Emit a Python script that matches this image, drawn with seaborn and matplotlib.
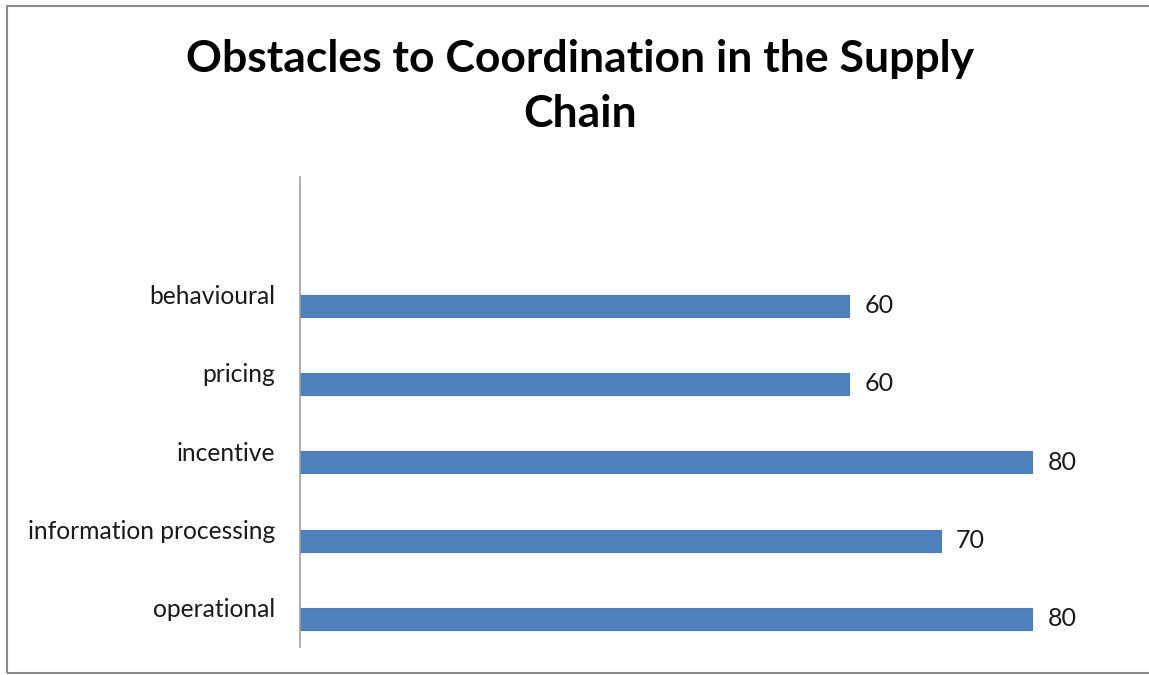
import matplotlib
matplotlib.use("Agg")
import matplotlib.pyplot as plt
import seaborn as sns
import pandas as pd
import numpy as np
from matplotlib.patches import Rectangle

categories = ["behavioural", "pricing", "incentive", "information processing", "operational"]
values = [60, 60, 80, 70, 80]
title = "Obstacles to Coordination in the Supply\nChain"

sns.set_theme(style="white")
plt.rcParams['font.family'] = ['Lato', 'DejaVu Sans']

order = [""] + categories
df = pd.DataFrame({
    "category": categories + categories,
    "value": values + [np.nan] * len(categories),
    "series": ["Series1"] * len(categories) + ["Series2"] * len(categories),
})

fig = plt.figure(figsize=(11.49, 6.75), dpi=100)
W, H = 1149, 675
ax = fig.add_axes([300 / W, 1 - 647 / H, (1123.5 - 300) / W, (647 - 177) / H])

sns.barplot(data=df, y="category", x="value", hue="series", order=order,
            hue_order=["Series2", "Series1"], orient="h", dodge=True,
            palette={"Series1": "#4F81BD", "Series2": "#4F81BD"}, saturation=1,
            width=0.564, edgecolor="#4A7EBB", linewidth=0.8, legend=False, ax=ax,
            errorbar=None)

for cont in ax.containers:
    labels = ["" if (v is None or np.isnan(v)) else f"{v:.0f}" for v in cont.datavalues]
    ax.bar_label(cont, labels=labels, padding=11, fontsize=18, color="#1a1a1a")

ax.set_xlim(0, 90)
ax.set_ylim(len(order) - 0.5, -0.5)
ax.set_xlabel("")
ax.set_ylabel("")
ax.set_xticks([])
ax.tick_params(axis="y", length=0, pad=18, labelsize=17.7, labelcolor="#1a1a1a")
for s in ["top", "right", "bottom"]:
    ax.spines[s].set_visible(False)
ax.spines["left"].set_color("#A0A0A0")
ax.spines["left"].set_linewidth(1.2)

fig.text(580 / W, 1 - 39 / H, title, ha="center", va="top", fontsize=32,
         fontweight="bold", color="black", linespacing=1.45)

fig.patches.append(Rectangle((7 / W, 1 - 673 / H), (1160 - 7) / W, (673 - 6) / H,
                             transform=fig.transFigure, fill=False,
                             edgecolor="#8C8C8C", linewidth=1.5, clip_on=False))

fig.savefig("out.png", dpi=100)
